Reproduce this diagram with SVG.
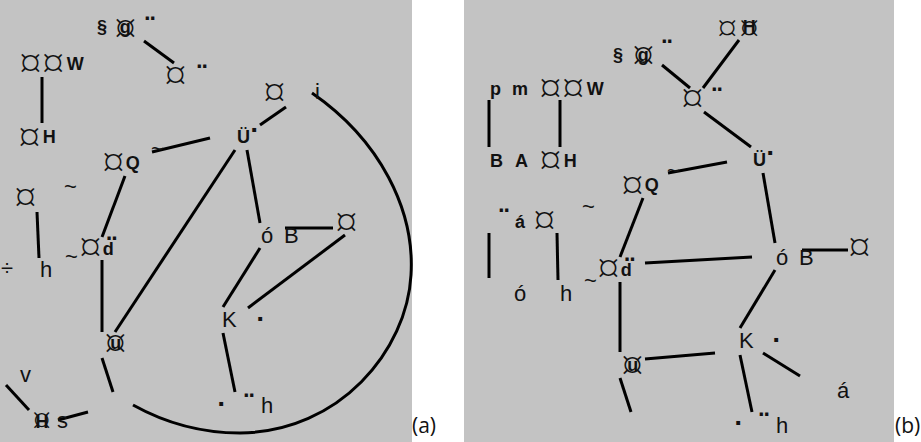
<svg xmlns="http://www.w3.org/2000/svg" width="921" height="442" viewBox="0 0 921 442">
<style>
.bg{fill:#c3c3c3}
text{fill:#111}
.t{font-family:"Liberation Sans",sans-serif;font-size:22px}
.tb{font-family:"Liberation Sans",sans-serif;font-size:18px;font-weight:bold}
.s{font-family:"Open Sans","Liberation Sans",sans-serif;font-size:40px;font-weight:300}
.d{font-family:"DejaVu Sans",sans-serif;font-size:28px;font-weight:bold}
.m{font-family:"DejaVu Sans",sans-serif;font-size:22px;font-weight:bold}
.cap{font-family:"Open Sans","Liberation Sans",sans-serif;font-size:21px}
.c line,.c path{stroke:#000;stroke-width:3;fill:none}
</style>
<rect width="921" height="442" fill="#fff"/>
<rect class="bg" x="0" y="0" width="412" height="442"/>
<rect class="bg" x="464" y="0" width="430" height="442"/>
<text class="cap" x="412" y="433">(a)</text>
<text class="cap" x="895" y="433">(b)</text>

<g class="c" id="connectors-a">
<line x1="144" y1="41" x2="174" y2="63"/>
<line x1="42" y1="77" x2="42" y2="123"/>
<line x1="152" y1="152" x2="210" y2="138"/>
<line x1="125" y1="176" x2="102" y2="237"/>
<line x1="37" y1="212" x2="39" y2="258"/>
<line x1="102" y1="260" x2="102" y2="332"/>
<line x1="115" y1="332" x2="235" y2="150"/>
<line x1="286" y1="107" x2="260" y2="125"/>
<line x1="247" y1="150" x2="260" y2="223"/>
<line x1="285" y1="228" x2="333" y2="228"/>
<line x1="345" y1="235" x2="248" y2="308"/>
<line x1="260" y1="248" x2="223" y2="307"/>
<line x1="223" y1="333" x2="235" y2="392"/>
<line x1="102" y1="358" x2="113" y2="392"/>
<line x1="6" y1="385" x2="29" y2="410"/>
<line x1="58" y1="420" x2="88" y2="412"/>
<path d="M312,93 C380,140 415,210 411,275 C407,350 340,432 240,433 C195,433 160,420 133,405"/>
</g>

<g class="c" id="connectors-b">
<line x1="662" y1="65" x2="690" y2="88"/>
<line x1="739" y1="40" x2="703" y2="88"/>
<line x1="704" y1="112" x2="751" y2="147"/>
<line x1="668" y1="173" x2="727" y2="162"/>
<line x1="763" y1="173" x2="775" y2="243"/>
<line x1="489" y1="100" x2="489" y2="147"/>
<line x1="560" y1="100" x2="560" y2="147"/>
<line x1="489" y1="233" x2="489" y2="278"/>
<line x1="557" y1="233" x2="558" y2="280"/>
<line x1="643" y1="198" x2="620" y2="257"/>
<line x1="645" y1="263" x2="752" y2="257"/>
<line x1="802" y1="250" x2="848" y2="250"/>
<line x1="775" y1="270" x2="740" y2="328"/>
<line x1="620" y1="282" x2="620" y2="352"/>
<line x1="645" y1="359" x2="715" y2="353"/>
<line x1="620" y1="378" x2="631" y2="412"/>
<line x1="763" y1="353" x2="800" y2="376"/>
<line x1="740" y1="355" x2="752" y2="412"/>
</g>

<!-- panel a nodes -->
<g id="a-n1"><text class="tb" x="97" y="33">§</text><text class="s" x="114" y="42">¤<tspan class="tb" dx="-17" dy="-9">g</tspan></text><text class="d" x="143" y="39">¨</text></g>
<g id="a-n2"><text class="s" x="164" y="89">¤</text><text class="d" x="195" y="87">¨</text></g>
<g id="a-n3"><text class="s" x="19" y="77">¤¤<tspan class="tb" dx="2" dy="-7">W</tspan></text></g>
<g id="a-n4"><text class="s" x="18" y="151">¤<tspan class="tb" dx="2" dy="-8">H</tspan></text></g>
<g id="a-n5"><text class="s" x="102" y="176">¤<tspan class="tb" dx="1" dy="-7">Q</tspan></text><text class="t" x="151" y="156">~</text></g>
<g id="a-n6"><text class="t" x="64" y="194">~</text></g>
<g id="a-n7"><text class="s" x="14" y="211">¤</text></g>
<g id="a-n8"><text class="t" x="1" y="275">÷</text><text class="t" x="40" y="277">h</text></g>
<g id="a-n9"><text class="t" x="65" y="264">~</text><text class="s" x="79" y="261">¤<tspan class="tb" dx="1" dy="-6">d</tspan><tspan class="d" dx="-9" dy="4">¨</tspan></text></g>
<g id="a-n10"><text class="s" x="104" y="357">¤<tspan class="tb" dx="-16.5" dy="-8">u</tspan></text></g>
<g id="a-n11"><text class="t" x="20" y="382">v</text></g>
<g id="a-n12"><text class="s" x="32" y="432" style="font-size:34px">¤<tspan class="tb" dx="-16" dy="-4">H</tspan><tspan class="t" dx="8.6">s</tspan></text></g>
<g id="a-n13"><text class="s" x="263" y="106">¤</text><text class="t" x="315" y="99">i</text></g>
<g id="a-n14"><text class="tb" x="237" y="143">Ü<tspan class="m" dy="-6">·</tspan></text></g>
<g id="a-n15"><text class="t" x="261" y="243">ó</text><text class="t" x="284" y="243">B</text></g>
<g id="a-n16"><text class="s" x="335" y="236">¤</text></g>
<g id="a-n17"><text class="t" x="222" y="327">K</text><text class="m" x="256" y="326">·</text></g>
<g id="a-n18"><text class="m" x="217" y="411">·</text><text class="d" x="242" y="416">¨</text><text class="t" x="261" y="413">h</text></g>

<!-- panel b nodes -->
<g id="b-n1"><text class="tb" x="613" y="61">§</text><text class="s" x="632" y="69">¤<tspan class="tb" dx="-17" dy="-8">g</tspan></text><text class="d" x="660" y="62">¨</text></g>
<g id="b-n2"><text class="s" x="681" y="112">¤</text><text class="d" x="710" y="110">¨</text></g>
<g id="b-n3"><text class="s" x="717" y="41" style="font-size:36px">¤<tspan dx="1.5">¤</tspan><tspan class="tb" dx="-17" dy="-8">H</tspan></text></g>
<g id="b-n4"><text class="tb" x="490" y="95">p</text><text class="tb" x="512" y="95">m</text><text class="s" x="539" y="102">¤¤<tspan class="tb" dx="2" dy="-7">W</tspan></text></g>
<g id="b-n5"><text class="tb" x="490" y="167">B</text><text class="tb" x="515" y="167">A</text><text class="s" x="539" y="174">¤<tspan class="tb" dx="2" dy="-7">H</tspan></text></g>
<g id="b-n6"><text class="s" x="621" y="199">¤<tspan class="tb" dx="1" dy="-8">Q</tspan></text><text class="t" x="667" y="178">~</text></g>
<g id="b-n7"><text class="tb" x="753" y="166">Ü<tspan class="m" dy="-6">·</tspan></text></g>
<g id="b-n8"><text class="d" x="497" y="231">¨</text><text class="tb" x="515" y="228">á</text><text class="s" x="533" y="234">¤</text></g>
<g id="b-n9"><text class="t" x="582" y="214">~</text></g>
<g id="b-n10"><text class="t" x="514" y="301">ó</text><text class="t" x="560" y="301">h</text></g>
<g id="b-n11"><text class="t" x="584" y="288">~</text><text class="s" x="597" y="282">¤<tspan class="tb" dx="1" dy="-6">d</tspan><tspan class="d" dx="-9" dy="4">¨</tspan></text></g>
<g id="b-n12"><text class="t" x="776" y="265">ó</text><text class="t" x="799" y="265">B</text></g>
<g id="b-n13"><text class="s" x="848" y="261">¤</text></g>
<g id="b-n14"><text class="t" x="739" y="348">K</text><text class="m" x="772" y="347">·</text></g>
<g id="b-n15"><text class="t" x="837" y="398">á</text></g>
<g id="b-n16"><text class="s" x="621" y="379">¤<tspan class="tb" dx="-16.5" dy="-8">u</tspan></text></g>
<g id="b-n17"><text class="m" x="734" y="430">·</text><text class="d" x="757" y="435">¨</text><text class="t" x="776" y="433">h</text></g>
</svg>
